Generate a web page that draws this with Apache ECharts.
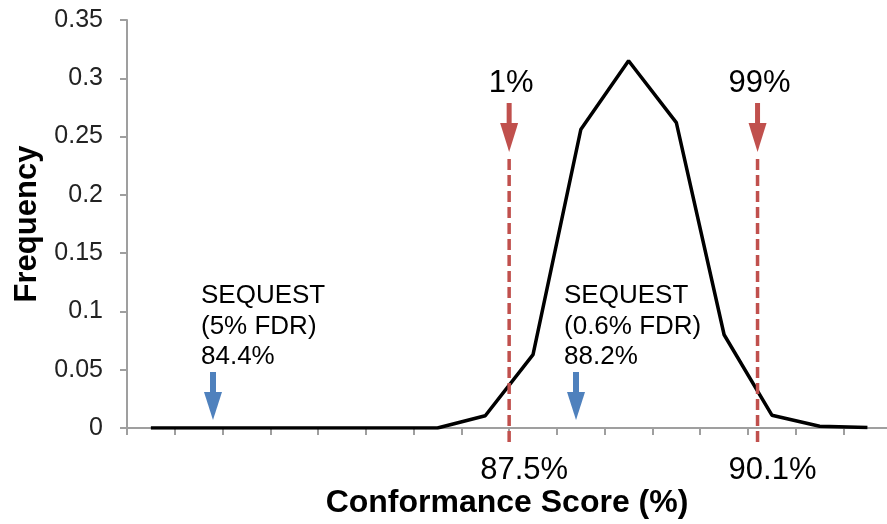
<!DOCTYPE html>
<html>
<head>
<meta charset="utf-8">
<script src="https://cdn.jsdelivr.net/npm/echarts@6/dist/echarts.min.js"></script>
<style>
html,body{margin:0;padding:0;background:#fff;overflow:hidden;}
#c{width:887px;height:524px;}
</style>
</head>
<body>
<div id="c"></div>
<script>
// ---- data ----
const binCenters = [83.75, 84.25, 84.75, 85.25, 85.75, 86.25, 86.75, 87.25,
                    87.75, 88.25, 88.75, 89.25, 89.75, 90.25, 90.75, 91.25];
const frequency  = [0, 0, 0, 0, 0, 0, 0, 0.0105,
                    0.063, 0.256, 0.315, 0.262, 0.080, 0.011, 0.0015, 0.0005];
const binEdges = [83.5, 84, 84.5, 85, 85.5, 86, 86.5, 87,
                  87.5, 88, 88.5, 89, 89.5, 90, 90.5, 91];
const percentileValues = [87.5, 90.1];
const percentileNames  = ['1%', '99%'];
const percentileTexts  = ['87.5%', '90.1%'];
const sequestValues = [84.4, 88.2];
const sequestTexts  = ['SEQUEST\n(5% FDR)\n84.4%', 'SEQUEST\n(0.6% FDR)\n88.2%'];
const xName = 'Conformance Score (%)';
const yName = 'Frequency';

// ---- chart ----
const FONT = '"Liberation Sans", Arial, sans-serif';
const RED = '#C0504D';
const BLUE = '#4F81BD';
const AXIS = '#9f9f9f';

const chart = echarts.init(document.getElementById('c'), null, {renderer: 'canvas'});
chart.setOption({
  animation: false,
  backgroundColor: '#fff',
  textStyle: {fontFamily: FONT},
  grid: {left: 127, right: 0, top: 20, bottom: 94, containLabel: false},
  xAxis: {
    // the plot is cropped at the right edge, just before the last bin boundary
    type: 'value', min: 83.5, max: 91.455,
    name: xName, nameLocation: 'middle', nameGap: 59,
    nameTextStyle: {fontSize: 32, fontWeight: 'bold', color: '#000', fontFamily: FONT,
                    padding: [0, 0, 0, 0]},
    axisLine: {show: true, lineStyle: {color: AXIS, width: 2}},
    axisTick: {show: true, length: 7, inside: false, customValues: binEdges,
               lineStyle: {color: AXIS, width: 2}},
    axisLabel: {show: false},
    splitLine: {show: false}
  },
  yAxis: {
    type: 'value', min: 0, max: 0.35, interval: 0.05,
    name: yName, nameLocation: 'middle', nameGap: 82, nameRotate: 90,
    nameTextStyle: {fontSize: 31, fontWeight: 'bold', color: '#000', fontFamily: FONT},
    axisLine: {show: true, lineStyle: {color: AXIS, width: 2}},
    axisTick: {show: true, length: 7, lineStyle: {color: AXIS, width: 2}},
    axisLabel: {show: true, fontSize: 25, color: '#222', margin: 24, fontFamily: FONT},
    splitLine: {show: false}
  },
  series: [{
    type: 'line',
    data: binCenters.map((x, i) => [x, frequency[i]]),
    symbol: 'none',
    lineStyle: {color: '#000', width: 3.5},
    z: 3
  }]
});

// ---- annotations positioned through the axes ----
const g = [];
const base = chart.convertToPixel({gridIndex: 0}, [83.5, 0])[1];
percentileValues.forEach((v, i) => {
  const px = chart.convertToPixel({gridIndex: 0}, [v, 0])[0];
  g.push({type: 'text', z: 10, style: {text: percentileNames[i], x: px + 2, y: base - 345,
    font: '31px ' + FONT, fill: '#000', textAlign: 'center', textVerticalAlign: 'middle'}});
  g.push({type: 'rect', z: 10, shape: {x: px - 2.5, y: base - 325, width: 5, height: 21},
    style: {fill: RED}});
  g.push({type: 'polygon', z: 10, shape: {points: [[px - 9, base - 305], [px + 9, base - 305], [px, base - 276]]},
    style: {fill: RED}});
  g.push({type: 'line', z: 10, shape: {x1: px, y1: base - 269, x2: px, y2: base + 17},
    style: {stroke: RED, lineWidth: 3.5, lineDash: [11, 5]}});
  g.push({type: 'text', z: 10, style: {text: percentileTexts[i], x: px + 15, y: base + 42,
    font: '31px ' + FONT, fill: '#000', textAlign: 'center', textVerticalAlign: 'middle'}});
});
sequestValues.forEach((v, i) => {
  const px = chart.convertToPixel({gridIndex: 0}, [v, 0])[0];
  g.push({type: 'rect', z: 10, shape: {x: px - 3, y: base - 56, width: 6, height: 21},
    style: {fill: BLUE}});
  g.push({type: 'polygon', z: 10, shape: {points: [[px - 9, base - 36], [px + 9, base - 36], [px, base - 8]]},
    style: {fill: BLUE}});
  g.push({type: 'text', z: 10, style: {text: sequestTexts[i], x: px - 12, y: base - 147,
    font: '26px ' + FONT, fill: '#000', textAlign: 'left', textVerticalAlign: 'top', lineHeight: 30.5}});
});
chart.setOption({graphic: g});
</script>
</body>
</html>
